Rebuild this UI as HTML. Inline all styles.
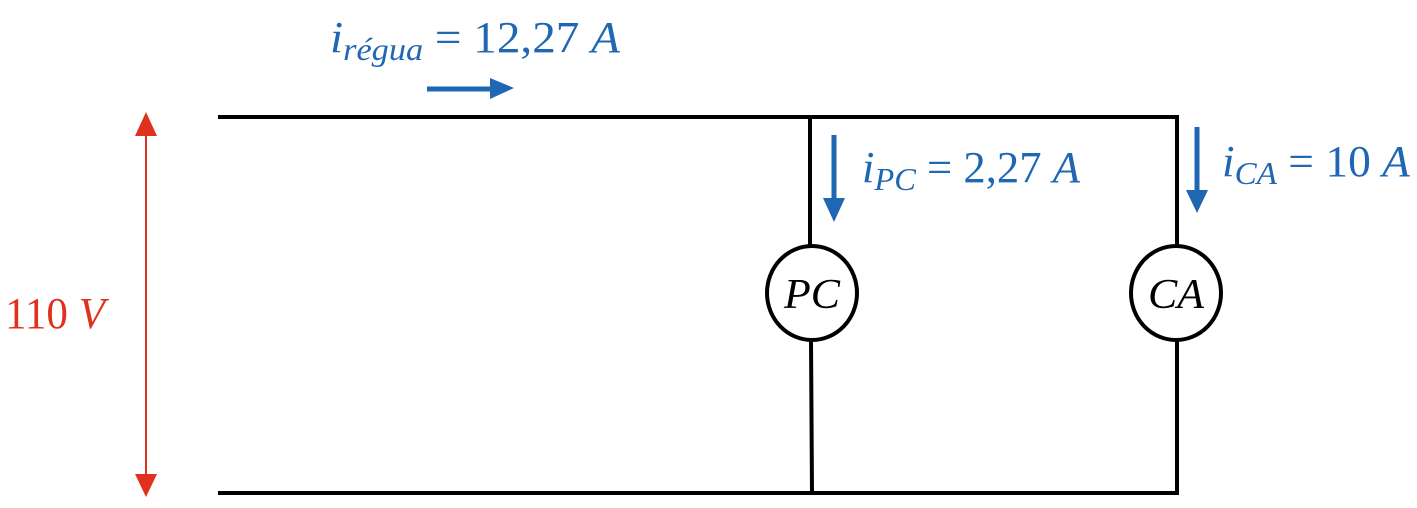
<!DOCTYPE html>
<html><head><meta charset="utf-8"><style>html,body{margin:0;padding:0;background:#fff}svg{display:block}</style></head>
<body>
<svg width="1417" height="508" viewBox="0 0 1417 508" xmlns="http://www.w3.org/2000/svg">
<g stroke="#000" stroke-width="4" fill="none">
<path d="M218,117 H1177 V246"/>
<path d="M1177,340 V493 H218"/>
<path d="M810,117 V246"/>
<path d="M811,340 L812,493"/>
<ellipse cx="812" cy="293" rx="45" ry="47" fill="#fff"/>
<ellipse cx="1176" cy="293" rx="45" ry="47" fill="#fff"/>
</g>
<g fill="#000" font-family="Liberation Serif, serif" font-style="italic" font-size="42">
<text x="812" y="308" text-anchor="middle" textLength="56" lengthAdjust="spacingAndGlyphs">PC</text>
<text x="1176" y="308" text-anchor="middle" textLength="56" lengthAdjust="spacingAndGlyphs">CA</text>
</g>
<line x1="146" y1="130" x2="146" y2="478" stroke="#e0301e" stroke-width="2"/>
<polygon points="146,112 135,136 157,136" fill="#e0301e"/>
<polygon points="146,497 135,474 157,474" fill="#e0301e"/>
<text x="5" y="328" fill="#e0301e" font-family="Liberation Serif, serif" font-size="44" textLength="100" lengthAdjust="spacingAndGlyphs">110 <tspan font-style="italic">V</tspan></text>
<line x1="427" y1="89" x2="492" y2="89" stroke="#1f66b3" stroke-width="5"/>
<polygon points="490,78 514,88 490,99" fill="#1f66b3"/>
<line x1="834" y1="135" x2="834" y2="200" stroke="#1f66b3" stroke-width="5"/>
<polygon points="823,198 845,198 834,222" fill="#1f66b3"/>
<line x1="1197" y1="127" x2="1197" y2="191" stroke="#1f66b3" stroke-width="5"/>
<polygon points="1186,190 1208,190 1197,213" fill="#1f66b3"/>
<g fill="#1f66b3" font-family="Liberation Serif, serif" font-size="44">
<text x="330" y="52" textLength="290" lengthAdjust="spacingAndGlyphs"><tspan font-style="italic">i</tspan><tspan font-style="italic" font-size="32" dy="8">régua</tspan><tspan dy="-8"> = 12,27 </tspan><tspan font-style="italic">A</tspan></text>
<text x="862" y="182" textLength="218" lengthAdjust="spacingAndGlyphs"><tspan font-style="italic">i</tspan><tspan font-style="italic" font-size="32" dy="8">PC</tspan><tspan dy="-8"> = 2,27 </tspan><tspan font-style="italic">A</tspan></text>
<text x="1222" y="176" textLength="188" lengthAdjust="spacingAndGlyphs"><tspan font-style="italic">i</tspan><tspan font-style="italic" font-size="32" dy="8">CA</tspan><tspan dy="-8"> = 10 </tspan><tspan font-style="italic">A</tspan></text>
</g>
</svg>
</body></html>
